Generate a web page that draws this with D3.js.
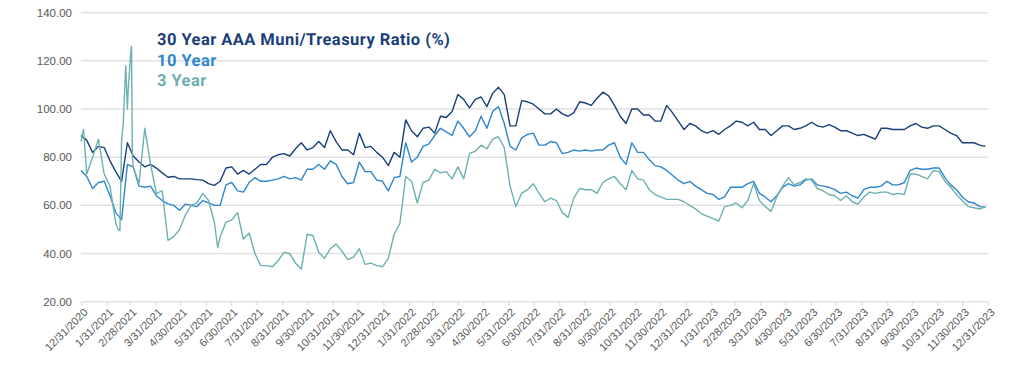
<!DOCTYPE html>
<html>
<head>
<meta charset="utf-8">
<script src="https://cdn.jsdelivr.net/npm/d3@7"></script>
<style>
  html, body { margin: 0; padding: 0; background: #ffffff; }
  svg { display: block; font-family: "Liberation Sans", Arial, sans-serif; }
  svg text { -webkit-font-smoothing: antialiased; text-rendering: geometricPrecision; }
</style>
</head>
<body>
<svg id="chart" width="1024" height="379"></svg>
<script>
// ---------------- DATA (weekly observations starting 12/31/2020) ----------------
const seriesNames = ["30 Year AAA Muni/Treasury Ratio (%)", "10 Year", "3 Year"];
const yTickValues = [20, 40, 60, 80, 100, 120, 140];

const ratio30 = [
  89, 87, 82, 84.5, 84, 78.5, 74, 70, 86, 80.5, 78, 76, 77, 75.5, 73.5, 71.7, 72, 71, 71, 71,
  70.7, 70.5, 69, 68.3, 70, 75.5, 76, 73, 74.5, 73, 75, 77, 77, 80, 81, 81.5, 80.5, 83.5, 86, 83,
  84, 86.5, 84, 91, 86.5, 83, 83, 81, 90, 84, 84.5, 82, 80, 76.5, 82, 80, 95.5, 91, 88.5, 92,
  92.5, 90, 97, 96.5, 99, 106, 104, 100.5, 104, 105, 101, 106.5, 109, 106, 93, 93, 103.5, 103, 102, 100,
  98, 98, 100, 98, 97, 98.5, 103, 102.5, 101.5, 104.5, 107, 105.5, 101.5, 97, 94, 100, 100, 97.5, 97.5, 95,
  95, 101.5, 98.5, 95, 91.5, 94, 93, 91, 90, 91, 89.5, 91.5, 93, 95, 94.5, 93, 94.5, 91.5, 91.5, 89,
  91, 93, 93, 91.5, 92, 93, 94.5, 93, 92.5, 93.5, 92.5, 91, 91, 90, 89, 89.5, 88.5, 87.5, 92, 92,
  91.5, 91.5, 91.5, 93, 94, 92.5, 92, 93, 93, 91.5, 90, 89, 86, 86, 86, 85, 84.5
];

const ratio10 = [
  74.5, 72, 67, 69.5, 70, 64, 57, 54, 77, 76, 68, 67.5, 68, 64, 62, 60.6, 60, 58, 60.5, 60,
  59.5, 62, 61, 60, 60, 68.5, 69.5, 66, 65.5, 69.5, 71.5, 70, 70, 70.5, 71, 72, 71, 71.5, 70.5, 75,
  75, 77, 75, 78.5, 77, 72, 69, 69.5, 78, 74, 74, 70.5, 70, 66, 71.5, 72, 86, 78, 80, 84.5,
  85.5, 89, 92, 90.5, 89, 95, 92, 88.5, 91, 97, 92, 99, 101, 94, 84.5, 83, 88, 89.5, 90, 85,
  85, 86.5, 86, 81.5, 82, 83, 82.5, 83, 82.5, 83, 83, 85, 86, 80, 77, 86, 82, 82, 79, 76.5,
  76, 74.5, 72.5, 70.5, 69, 70, 68, 66.5, 65, 64.5, 62.5, 63.5, 67.5, 67.5, 67.5, 69, 70, 65, 63.5, 61.5,
  64, 67.5, 69, 68, 68.5, 70.5, 71, 68.5, 68, 67.5, 66.5, 65, 65.5, 64, 63, 66.5, 67.5, 67.5, 68, 70,
  68.5, 68.5, 69.5, 74.5, 75.5, 75, 75, 75.5, 75.5, 71.5, 68.5, 66.5, 63.5, 61.5, 61, 59.5, 59.2
];

const ratio3 = [
  86.5, 73, 80, 87.5, 73, 68, 52.5, 87, 100, 76, 69, 92, 77, 65, 66, 45.5, 47, 50, 56, 60,
  61, 65, 62, 53, 47, 53, 54, 57, 46, 48.5, 40, 35, 35, 34.5, 37, 40.5, 40, 36, 33.5, 48,
  47.5, 40.5, 38, 42, 44, 41, 37.5, 38.5, 42, 35.5, 36, 35, 34.5, 38, 48, 52.5, 72, 70, 61, 69.5,
  70.5, 75, 73.5, 74, 71, 76, 71, 81.5, 82.5, 85, 83.5, 87.5, 88.5, 84, 68, 59.5, 65, 66.5, 69, 65,
  61.5, 63, 62, 57, 55, 63, 67, 66.5, 66.5, 65, 69.5, 71, 72, 69, 66.5, 74.5, 71, 70.5, 66.5, 64.5,
  63.5, 62.5, 62.5, 62.5, 61.5, 60, 58.5, 56.5, 55.5, 54.5, 53.5, 59.5, 60, 61, 59, 62, 69, 62, 59.5, 57.5,
  63.5, 68, 71.5, 68.5, 69.5, 71, 70.5, 67, 66, 64.5, 64, 62, 64, 61.5, 60.5, 63.5, 65.5, 65, 65.5, 65.5,
  64.5, 65, 64.5, 73, 73, 72, 71, 74.5, 74, 70, 67.5, 64.5, 62, 59.5, 59, 58.5, 59.5
];

// extra intra-week observations for the 3 Year series (spikes)
const ratio3ExtraDates = ["2021-01-03", "2021-02-14", "2021-02-16", "2021-02-20", "2021-02-23", "2021-02-26", "2021-03-01", "2021-03-02", "2021-03-03", "2021-06-14"];
const ratio3ExtraValues = [91.5, 50, 49.5, 94, 118, 108, 123, 126, 80, 42.5];

// ---------------- CHART ----------------
const svg = d3.select("#chart");
const startDate = new Date(2020, 11, 31);
const endDate = new Date(2023, 11, 31);

const x = d3.scaleTime().domain([startDate, endDate]).range([81, 988]);
const y = d3.scaleLinear().domain([20, 140]).range([301.7, 12.7]);

const colors = ["#1a3f78", "#2e86cf", "#6db0b1"];
const gridColor = "#e1e1e1";
const textColor = "#595959";

const weekDate = i => d3.timeDay.offset(startDate, 7 * i);
const parse = d3.timeParse("%Y-%m-%d");

const s30 = ratio30.map((v, i) => ({ date: weekDate(i), value: v }));
const s10 = ratio10.map((v, i) => ({ date: weekDate(i), value: v }));
const s3 = ratio3.map((v, i) => ({ date: weekDate(i), value: v }))
  .concat(ratio3ExtraDates.map((d, i) => ({ date: parse(d), value: ratio3ExtraValues[i] })))
  .sort((a, b) => a.date - b.date);

// gridlines
svg.append("g").selectAll("line").data(yTickValues).join("line")
  .attr("x1", 81).attr("x2", 988)
  .attr("y1", d => y(d)).attr("y2", d => y(d))
  .attr("stroke", gridColor).attr("stroke-width", 1.5);

// y labels
svg.append("g").selectAll("text").data(yTickValues).join("text")
  .attr("x", 72).attr("y", d => y(d)).attr("dy", "0.35em")
  .attr("text-anchor", "end").attr("fill", textColor).attr("font-size", 11.5)
  .text(d => d3.format(".2f")(d));

// x axis: month-end ticks
const monthEnds = d3.timeMonth.range(new Date(2021, 0, 1), new Date(2024, 0, 2)).map(d => d3.timeDay.offset(d, -1));
const xAxis = d3.axisBottom(x).tickValues(monthEnds).tickSize(4).tickSizeOuter(0)
  .tickFormat(d3.timeFormat("%-m/%-d/%Y"));
const gx = svg.append("g").attr("transform", `translate(0,${y(20)})`).call(xAxis);
gx.select(".domain").remove();
gx.selectAll(".tick line").attr("stroke", gridColor).attr("stroke-width", 1.5);
gx.selectAll(".tick text")
  .style("fill", textColor).attr("font-size", 11).attr("font-family", "Liberation Sans, Arial, sans-serif")
  .attr("text-anchor", "end")
  .attr("x", -3).attr("y", 9).attr("dy", "0.35em")
  .attr("transform", "rotate(-45)");

// lines
const line = d3.line().x(d => x(d.date)).y(d => y(d.value));
[s30, s10, s3].forEach((s, k) => {
  svg.append("path").datum(s)
    .attr("fill", "none").attr("stroke", colors[k]).attr("stroke-width", 1.4)
    .attr("stroke-linejoin", "round").attr("d", line);
});

// legend
const legend = svg.append("g");
seriesNames.forEach((name, k) => {
  legend.append("text")
    .attr("x", 157).attr("y", 45 + k * 20.5)
    .attr("fill", colors[k]).attr("font-size", 16.5).attr("font-weight", "bold")
    .attr("letter-spacing", 0.45)
    .attr("font-family", "Roboto, 'Liberation Sans', Arial, sans-serif")
    .text(name);
});
</script>
</body>
</html>
